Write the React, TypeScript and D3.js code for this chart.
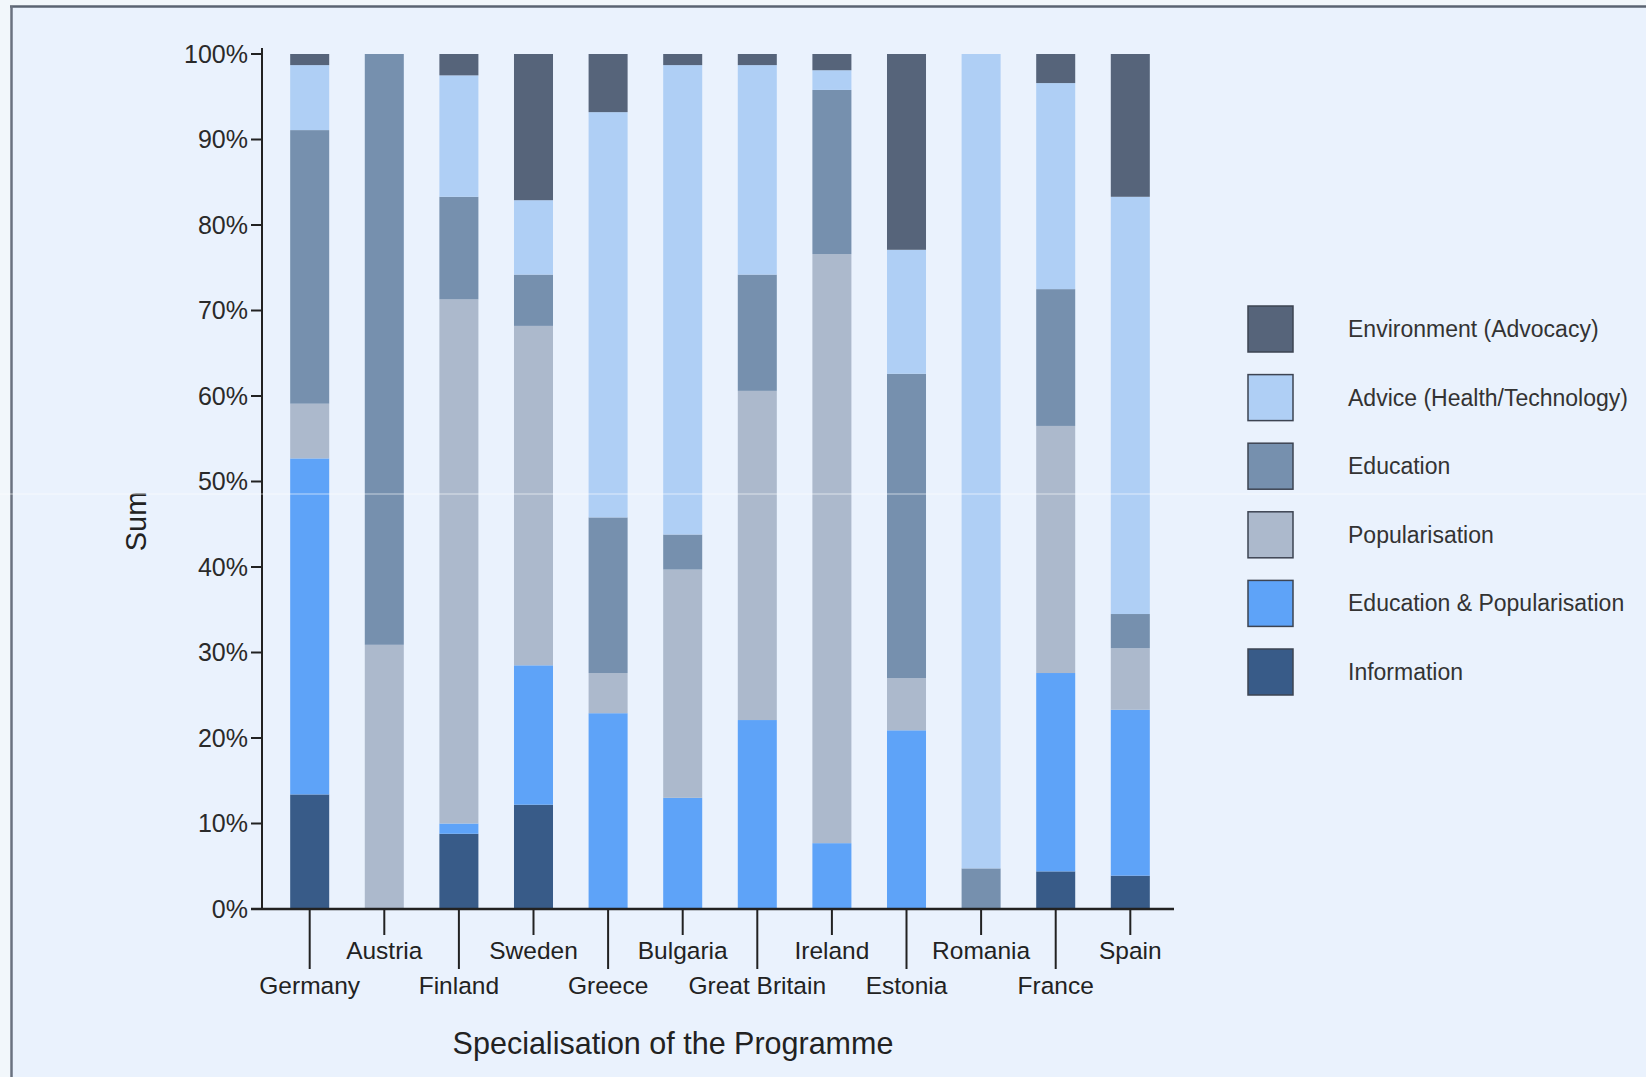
import React from "react";
import * as d3 from "d3";

const countries = ["Germany", "Austria", "Finland", "Sweden", "Greece", "Bulgaria", "Great Britain", "Ireland", "Estonia", "Romania", "France", "Spain"];

// values in percent, per country (same order as countries)
const information = [13.4, 0, 8.8, 12.2, 0, 0, 0, 0, 0, 0, 4.4, 3.9];
const eduPopularisation = [39.3, 0, 1.2, 16.3, 22.9, 13.0, 22.1, 7.7, 20.9, 0, 23.2, 19.4];
const popularisation = [6.4, 30.9, 61.3, 39.7, 4.7, 26.7, 38.5, 68.9, 6.1, 0, 28.9, 7.2];
const education = [32.0, 69.1, 12.0, 6.0, 18.2, 4.1, 13.6, 19.2, 35.6, 4.75, 16.0, 4.0];
const advice = [7.6, 0, 14.2, 8.7, 47.4, 54.9, 24.5, 2.3, 14.5, 95.25, 24.1, 48.8];
const environment = [1.3, 0, 2.5, 17.1, 6.8, 1.3, 1.3, 1.9, 22.9, 0, 3.4, 16.7];

const seriesKeys = ["Information", "Education & Popularisation", "Popularisation", "Education", "Advice (Health/Technology)", "Environment (Advocacy)"];
const seriesValues = [information, eduPopularisation, popularisation, education, advice, environment];
const seriesColors = ["#385B88", "#5EA3F8", "#ACB9CC", "#7690AE", "#AFCFF5", "#56647A"];
const legendOrder = ["Environment (Advocacy)", "Advice (Health/Technology)", "Education", "Popularisation", "Education & Popularisation", "Information"];

const yTicks = [0, 0.1, 0.2, 0.3, 0.4, 0.5, 0.6, 0.7, 0.8, 0.9, 1.0];

const W = 1646;
const H = 1077;
const FONT = "'Liberation Sans', Arial, Helvetica, sans-serif";

export default function App() {
  const rows = countries.map((c, i) => {
    const r: any = { country: c };
    seriesKeys.forEach((k, j) => (r[k] = seriesValues[j][i]));
    return r;
  });
  const stack = d3.stack<any>().keys(seriesKeys).offset(d3.stackOffsetExpand);
  const stacked = stack(rows);

  const x = d3.scaleBand<string>().domain(countries).range([264, 1176]).paddingInner(0.477).paddingOuter(0.351);
  const y = d3.scaleLinear().domain([0, 1]).range([909, 54]);
  const fmt = d3.format(".0%");
  const color = d3.scaleOrdinal<string, string>().domain(seriesKeys).range(seriesColors);

  const axisX0 = 262;
  const axisX1 = 1174;

  return (
    <svg width={W} height={H} style={{ position: "absolute", left: 0, top: 0, display: "block" }} fontFamily={FONT}>
      <rect x={0} y={0} width={W} height={H} fill="#F2F7FB" />
      <rect x={11} y={6} width={W - 11} height={H - 6} fill="#EAF2FD" />
      <line x1={10} x2={W} y1={6.5} y2={6.5} stroke="#5B6472" strokeWidth={2.5} />
      <line x1={11.5} x2={11.5} y1={6} y2={H} stroke="#6A7280" strokeWidth={2.5} />

      {/* bars */}
      {stacked.map((s) => (
        <g key={s.key} fill={color(s.key)}>
          {s.map((d, i) => {
            const h = y(d[0]) - y(d[1]);
            if (h <= 0) return null;
            return <rect key={i} x={x(countries[i])} y={y(d[1])} width={x.bandwidth()} height={h} />;
          })}
        </g>
      ))}

      {/* y axis */}
      <line x1={axisX0} x2={axisX0} y1={y(1) - 6} y2={y(0)} stroke="#222" strokeWidth={2} />
      {yTicks.map((t) => (
        <g key={t}>
          <line x1={axisX0 - 11} x2={axisX0} y1={y(t)} y2={y(t)} stroke="#222" strokeWidth={2} />
          <text x={axisX0 - 14} y={y(t)} dy="0.35em" textAnchor="end" fontSize={25} fill="#2a2a2a">
            {fmt(t)}
          </text>
        </g>
      ))}
      <text transform={`translate(136,${(y(0) + y(1)) / 2 + 40}) rotate(-90)`} textAnchor="middle" dy="0.35em" fontSize={29} fill="#222">
        Sum
      </text>

      {/* x axis */}
      <line x1={axisX0 - 11} x2={axisX1} y1={y(0)} y2={y(0)} stroke="#222" strokeWidth={2.5} />
      {countries.map((c, i) => {
        const cx = (x(c) as number) + x.bandwidth() / 2;
        const upper = i % 2 === 1;
        return (
          <g key={c}>
            <line x1={cx} x2={cx} y1={y(0)} y2={upper ? 935 : 969} stroke="#222" strokeWidth={2} />
            <text x={cx} y={upper ? 959 : 994} textAnchor="middle" fontSize={24.5} fill="#222">
              {c}
            </text>
          </g>
        );
      })}
      <text x={673} y={1054} textAnchor="middle" fontSize={30.5} fill="#222">
        Specialisation of the Programme
      </text>

      {/* legend */}
      {legendOrder.map((k, i) => {
        const cy = 329 + i * 68.6;
        return (
          <g key={k}>
            <rect x={1248} y={cy - 23} width={45} height={46} fill={color(k)} stroke="#3d4452" strokeWidth={1.5} />
            <text x={1348} y={cy} dy="0.35em" fontSize={23} fill="#333">
              {k}
            </text>
          </g>
        );
      })}

      {/* faint scan artifact line */}
      <line x1={0} x2={W} y1={494} y2={494} stroke="#ffffff" strokeWidth={1} opacity={0.6} />
    </svg>
  );
}
